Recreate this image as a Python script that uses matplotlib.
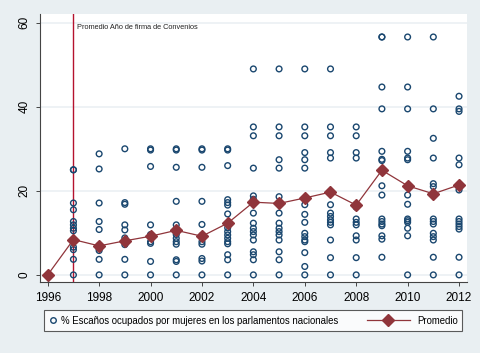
import matplotlib
matplotlib.use('Agg')
import matplotlib.pyplot as plt
from matplotlib.lines import Line2D
from matplotlib.patches import Rectangle

plt.rcParams['font.family'] = ['Liberation Sans', 'DejaVu Sans']

# promedio anual
years = list(range(1996, 2013))
promedio = [0.0, 8.4, 6.9, 8.1, 9.2, 10.6, 9.2, 12.3, 17.3, 17.0, 18.3,
            19.7, 16.6, 24.9, 21.2, 19.3, 21.4]

# % escaños por país y año
e1997 = [25.0, 25.0, 17.1, 15.5, 12.7, 11.9, 11.1, 10.5, 6.6, 6.0, 3.7, 0.0]
e1998 = [28.8, 25.2, 17.1, 12.7, 10.8, 7.0, 6.3, 5.8, 3.7, 0.0]
e1999 = [30.0, 17.2, 16.8, 11.9, 10.7, 8.8, 7.2, 3.7, 0.0]
e2000 = [30.0, 29.7, 25.8, 11.9, 9.6, 9.1, 7.9, 7.5, 3.2, 0.0]
e2001 = [30.0, 29.7, 25.6, 17.5, 11.9, 9.6, 8.7, 7.9, 7.3, 3.6, 3.2, 0.0]
e2002 = [30.0, 29.7, 25.6, 17.5, 12.0, 9.4, 9.0, 7.9, 7.3, 3.9, 3.3, 0.0]
e2003 = [30.0, 29.7, 26.0, 17.9, 17.2, 16.6, 14.5, 11.2, 10.3, 9.5, 8.7,
         7.9, 7.4, 4.8, 3.6, 0.0]
e2004 = [49.0, 35.2, 33.1, 25.4, 18.8, 18.0, 14.7, 12.3, 11.1, 10.3, 9.5,
         8.3, 5.5, 4.8, 3.6, 0.0]
e2005 = [49.0, 35.2, 33.1, 27.4, 25.4, 18.6, 14.7, 12.3, 11.1, 10.3, 9.5,
         8.3, 5.5, 3.6, 0.0]
e2006 = [49.0, 35.2, 33.1, 29.1, 27.4, 25.4, 16.7, 14.4, 12.5, 9.9, 9.1,
         8.3, 7.9, 5.3, 2.0, 0.0]
e2007 = [49.0, 35.2, 33.1, 29.1, 27.8, 16.7, 14.7, 13.9, 13.1, 12.5, 11.9,
         8.3, 4.1, 0.0]
e2008 = [35.2, 33.1, 29.1, 27.8, 16.8, 16.1, 13.3, 12.5, 11.9, 9.3, 8.3,
         4.1, 0.0]
e2009 = [56.6, 56.6, 44.7, 39.5, 29.4, 27.5, 27.2, 21.2, 19.0, 13.3, 12.7,
         12.1, 11.7, 9.3, 8.5, 4.2]
e2010 = [56.6, 44.7, 39.5, 29.4, 27.8, 27.4, 19.0, 16.8, 13.3, 12.9, 12.5,
         11.1, 9.3, 0.0]
e2011 = [56.6, 39.5, 32.5, 27.8, 21.7, 21.0, 19.3, 13.3, 12.7, 12.1, 9.9,
         9.1, 8.3, 4.2, 0.0]
e2012 = [42.5, 39.5, 38.9, 27.8, 26.2, 20.2, 13.3, 12.7, 12.1, 11.5, 10.9,
         4.2, 0.0]

escanos = {1997: e1997, 1998: e1998, 1999: e1999, 2000: e2000, 2001: e2001,
           2002: e2002, 2003: e2003, 2004: e2004, 2005: e2005, 2006: e2006,
           2007: e2007, 2008: e2008, 2009: e2009, 2010: e2010, 2011: e2011,
           2012: e2012}

anio_convenios = 1997
xticks = list(range(1996, 2013, 2))
yticks = [0, 20, 40, 60]

navy = '#1a476f'
maroon = '#90353b'
bg = '#e9eff2'

W, H = 485, 353
fig = plt.figure(figsize=(W / 100, H / 100), dpi=100, facecolor=bg)
fig.patches.append(Rectangle((480 / W, 0), 5 / W, 1, transform=fig.transFigure,
                             facecolor='white', edgecolor='none'))
ax = fig.add_axes([40 / W, 1 - 282 / H, 427 / W, 268 / H])
ax.set_facecolor('white')

xs, ys = [], []
for yr, vals in escanos.items():
    xs += [yr] * len(vals)
    ys += vals
ax.scatter(xs, ys, s=17, facecolors='none', edgecolors=navy, linewidths=1.0, zorder=3)

ax.plot(years, promedio, color=maroon, lw=0.9, marker='D', ms=6.2,
        mfc=maroon, mec=maroon, zorder=4)

ax.axvline(anio_convenios, color='#b5122e', lw=1.0, zorder=2)
ax.text(anio_convenios + 0.12, 58.8, 'Promedio Año de firma de Convenios',
        fontsize=5.3, va='center', ha='left', color='#222222')

ax.set_xlim(1995.70, 2012.31)
ax.set_ylim(-1.69, 62.07)
ax.set_xticks(xticks)
ax.set_yticks(yticks)
ax.set_xticklabels([str(t) for t in xticks], fontsize=8.5)
ax.set_yticklabels([str(t) for t in yticks], fontsize=8.5, rotation=90, va='center')
ax.tick_params(axis='both', length=3, width=0.7, color='#444444', pad=4)
ax.yaxis.grid(True, color=bg, lw=1.1)
ax.set_axisbelow(True)
for side in ['top', 'right']:
    ax.spines[side].set_visible(False)
for side in ['left', 'bottom']:
    ax.spines[side].set_color('#444444')
    ax.spines[side].set_linewidth(0.8)

h1 = Line2D([], [], ls='none', marker='o', ms=4.0, mfc='none', mec=navy, mew=1.0)
h2 = Line2D([], [], color=maroon, lw=0.9, marker='D', ms=6.2, mfc=maroon, mec=maroon)

leg1 = fig.legend([h1], ['% Escaños ocupados por mujeres en los parlamentos nacionales'],
                  loc='center', bbox_to_anchor=(44 / W, 1 - 332 / H, 418 / W, 23 / H),
                  mode='expand', fontsize=6.9, handlelength=0.6, handletextpad=0.6,
                  borderpad=0.6, borderaxespad=0, frameon=True, fancybox=False)
leg1.get_frame().set_edgecolor('#333333')
leg1.get_frame().set_linewidth(0.8)

leg2 = fig.legend([h2], ['Promedio'], loc='center right',
                  bbox_to_anchor=(458 / W, 1 - 320.5 / H), fontsize=6.9,
                  handlelength=4.4, handletextpad=0.8, borderpad=0,
                  borderaxespad=0, frameon=False)

fig.savefig('out.png', dpi=100, facecolor=fig.get_facecolor())
